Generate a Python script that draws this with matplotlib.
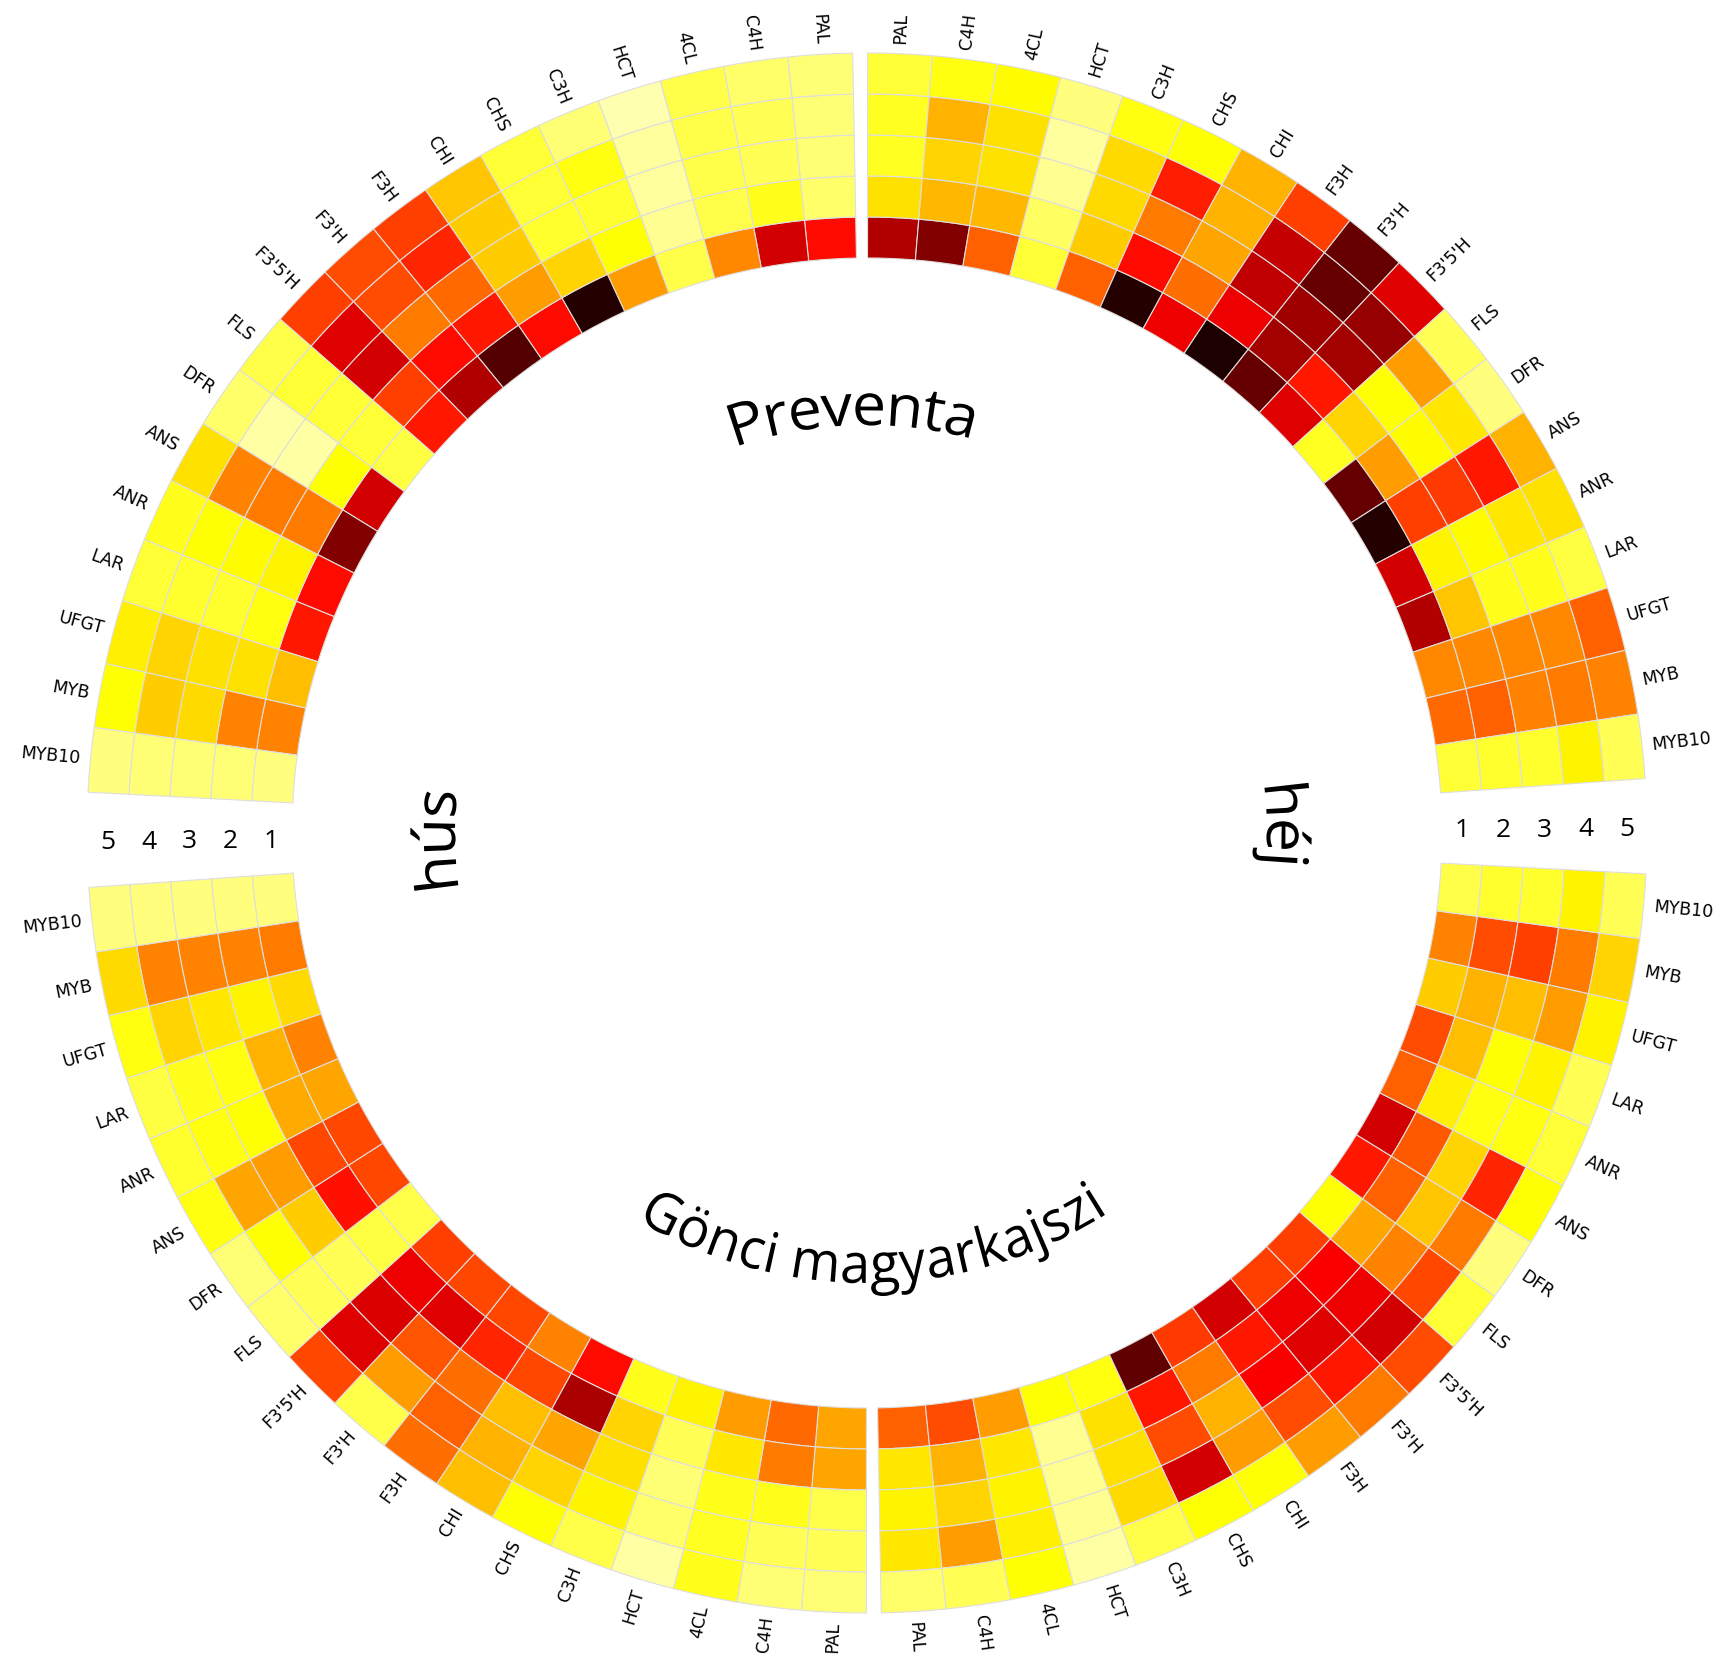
"""
Circular heatmap of relative gene expression in apricot fruit.

Four sectors: Preventa / Gönci magyarkajszi, each split into skin (héj)
and flesh (hús). Rings 1..5 run from the inside out.
"""

import numpy as np
import matplotlib
matplotlib.use("Agg")
import matplotlib.pyplot as plt
from matplotlib.colors import Normalize
from matplotlib.font_manager import FontProperties
from matplotlib.patches import PathPatch
from matplotlib.path import Path
from matplotlib.textpath import TextPath


# --------------------------------------------------------------------------- #
# Data: rows follow GENES, columns are rings 1..5 (inner -> outer)
# --------------------------------------------------------------------------- #
GENES = ["PAL", "C4H", "4CL", "HCT", "C3H", "CHS", "CHI", "F3H", "F3'H",
         "F3'5'H", "FLS", "DFR", "ANS", "ANR", "LAR", "UFGT", "MYB", "MYB10"]
RINGS = ["1", "2", "3", "4", "5"]

PREVENTA_HEJ = [
    [0.75, 0.30, 0.22, 0.22, 0.20],
    [0.82, 0.36, 0.32, 0.37, 0.24],
    [0.49, 0.36, 0.30, 0.30, 0.26],
    [0.20, 0.16, 0.11, 0.10, 0.13],
    [0.49, 0.33, 0.31, 0.31, 0.24],
    [0.96, 0.62, 0.45, 0.59, 0.25],
    [0.66, 0.47, 0.39, 0.37, 0.37],
    [0.97, 0.66, 0.73, 0.72, 0.54],
    [0.86, 0.77, 0.78, 0.86, 0.86],
    [0.68, 0.60, 0.77, 0.79, 0.68],
    [0.22, 0.32, 0.25, 0.40, 0.17],
    [0.86, 0.40, 0.26, 0.29, 0.13],
    [0.96, 0.54, 0.55, 0.60, 0.37],
    [0.70, 0.27, 0.26, 0.29, 0.30],
    [0.75, 0.34, 0.23, 0.23, 0.19],
    [0.43, 0.43, 0.43, 0.43, 0.49],
    [0.48, 0.49, 0.44, 0.45, 0.44],
    [0.20, 0.21, 0.21, 0.27, 0.17],
]

PREVENTA_HUS = [
    [0.62, 0.15, 0.14, 0.14, 0.14],
    [0.70, 0.23, 0.17, 0.17, 0.15],
    [0.43, 0.18, 0.18, 0.18, 0.18],
    [0.18, 0.11, 0.10, 0.10, 0.08],
    [0.40, 0.25, 0.21, 0.24, 0.14],
    [0.96, 0.32, 0.21, 0.20, 0.20],
    [0.62, 0.40, 0.33, 0.33, 0.34],
    [0.89, 0.60, 0.48, 0.58, 0.54],
    [0.75, 0.62, 0.45, 0.52, 0.52],
    [0.60, 0.54, 0.70, 0.68, 0.54],
    [0.19, 0.20, 0.20, 0.20, 0.18],
    [0.70, 0.25, 0.09, 0.09, 0.15],
    [0.82, 0.45, 0.45, 0.44, 0.30],
    [0.62, 0.27, 0.26, 0.25, 0.23],
    [0.60, 0.24, 0.21, 0.21, 0.20],
    [0.35, 0.30, 0.30, 0.32, 0.28],
    [0.44, 0.44, 0.31, 0.33, 0.25],
    [0.13, 0.14, 0.14, 0.14, 0.13],
]

GONCI_HUS = [
    [0.39, 0.39, 0.18, 0.17, 0.14],
    [0.48, 0.45, 0.23, 0.17, 0.14],
    [0.40, 0.29, 0.23, 0.22, 0.23],
    [0.27, 0.17, 0.14, 0.15, 0.09],
    [0.23, 0.32, 0.30, 0.27, 0.18],
    [0.62, 0.76, 0.39, 0.32, 0.25],
    [0.44, 0.53, 0.35, 0.37, 0.35],
    [0.53, 0.58, 0.47, 0.49, 0.47],
    [0.53, 0.68, 0.51, 0.40, 0.18],
    [0.54, 0.66, 0.69, 0.68, 0.53],
    [0.18, 0.19, 0.17, 0.17, 0.15],
    [0.53, 0.61, 0.33, 0.25, 0.14],
    [0.53, 0.53, 0.40, 0.39, 0.24],
    [0.39, 0.38, 0.25, 0.24, 0.21],
    [0.44, 0.37, 0.24, 0.23, 0.19],
    [0.31, 0.27, 0.29, 0.32, 0.24],
    [0.45, 0.44, 0.44, 0.44, 0.31],
    [0.13, 0.13, 0.13, 0.13, 0.13],
]

GONCI_HEJ = [
    [0.49, 0.29, 0.27, 0.29, 0.15],
    [0.52, 0.37, 0.32, 0.40, 0.17],
    [0.40, 0.29, 0.27, 0.28, 0.25],
    [0.25, 0.11, 0.11, 0.11, 0.09],
    [0.24, 0.30, 0.30, 0.31, 0.18],
    [0.87, 0.60, 0.52, 0.70, 0.25],
    [0.55, 0.45, 0.37, 0.40, 0.25],
    [0.70, 0.60, 0.64, 0.52, 0.40],
    [0.54, 0.66, 0.68, 0.60, 0.45],
    [0.54, 0.64, 0.66, 0.70, 0.52],
    [0.25, 0.39, 0.44, 0.53, 0.20],
    [0.60, 0.49, 0.34, 0.45, 0.13],
    [0.70, 0.50, 0.32, 0.58, 0.25],
    [0.49, 0.28, 0.24, 0.24, 0.20],
    [0.52, 0.35, 0.25, 0.27, 0.17],
    [0.33, 0.37, 0.35, 0.40, 0.27],
    [0.44, 0.52, 0.54, 0.45, 0.32],
    [0.18, 0.21, 0.21, 0.27, 0.17],
]


# --------------------------------------------------------------------------- #
# Layout (radial unit = 1 px at dpi 100)
# --------------------------------------------------------------------------- #
W_PX, H_PX = 1722, 1659
DPI = 100
CX, CY = 867, 833          # circle centre, px from top-left
R_LIM = 830
R_IN = 575                 # inner edge of ring 1
R_W = 41                   # ring thickness
R_LAB = 790                # gene labels start here
TILT = -0.5                # whole wheel turned slightly anticlockwise (deg)
GAP_V = 0.55               # half gap at top / bottom (deg)
GAP_H = 3.5                # half gap at left / right (deg)
STEP = (90 - GAP_V - GAP_H) / len(GENES)

CMAP = plt.get_cmap("hot_r")
NORM = Normalize(0.0, 1.0)
EDGE = "#dedede"

TITLE_FAMILY = "Open Sans"
NUM_FONT = "Open Sans"


def gene_angles(quadrant):
    """Compass angles (deg, clockwise from north) of gene centres."""
    k = np.arange(len(GENES)) + 0.5
    if quadrant == "TR":
        th = GAP_V + STEP * k
    elif quadrant == "BR":
        th = 180 - GAP_V - STEP * k
    elif quadrant == "BL":
        th = 180 + GAP_V + STEP * k
    else:  # TL
        th = 360 - GAP_V - STEP * k
    return th + TILT


def arc_text(ax, text, theta_c, r_base, size=42, outward=True):
    """Lay a string along a circle: outward -> tops away from centre."""
    prop = FontProperties(family=TITLE_FAMILY, size=size)
    tp = TextPath((0, 0), text, size=size * DPI / 72.0, prop=prop)
    v = tp.vertices
    ext = tp.get_extents()
    x = v[:, 0] - 0.5 * (ext.x0 + ext.x1)
    y = v[:, 1]
    if outward:
        th = np.radians(theta_c) + x / r_base
        r = r_base + y
    else:
        th = np.radians(theta_c) - x / r_base
        r = r_base - y
    path = Path(np.column_stack([th, r]), tp.codes)
    ax.add_patch(PathPatch(path, facecolor="black", edgecolor="none",
                           transform=ax.transData, clip_on=False))


def draw_sector(ax, values, quadrant):
    vals = np.asarray(values, dtype=float)
    th = gene_angles(quadrant)
    for i in range(len(RINGS)):
        ax.bar(np.radians(th), R_W, width=np.radians(STEP),
               bottom=R_IN + R_W * i, color=CMAP(NORM(vals[:, i])),
               edgecolor=EDGE, linewidth=0.8, align="center")
    for name, t in zip(GENES, th):
        t_mod = t % 360
        if t_mod < 180:
            rot, ha = 90 - t_mod, "left"
        else:
            rot, ha = 270 - t_mod, "right"
        ax.text(np.radians(t), R_LAB, name, rotation=rot,
                rotation_mode="anchor", ha=ha, va="center",
                fontsize=12.5, family="DejaVu Sans")


def main() -> None:
    fig = plt.figure(figsize=(W_PX / DPI, H_PX / DPI), dpi=DPI)
    ax = fig.add_axes([(CX - R_LIM) / W_PX, (H_PX - CY - R_LIM) / H_PX,
                       2 * R_LIM / W_PX, 2 * R_LIM / H_PX],
                      projection="polar")
    ax.set_theta_zero_location("N")
    ax.set_theta_direction(-1)
    ax.set_ylim(0, R_LIM)
    ax.set_axis_off()

    draw_sector(ax, PREVENTA_HEJ, "TR")
    draw_sector(ax, GONCI_HEJ, "BR")
    draw_sector(ax, GONCI_HUS, "BL")
    draw_sector(ax, PREVENTA_HUS, "TL")

    # ring numbers in the left / right gaps
    for i, lab in enumerate(RINGS):
        r = R_IN + R_W * (i + 0.5)
        for t in (90 + TILT, 270 + TILT):
            ax.text(np.radians(t), r, lab, ha="center", va="center_baseline",
                    fontsize=19, family=NUM_FONT)

    # curved titles inside the wheel
    arc_text(ax, "Preventa", -1.9, 408)
    arc_text(ax, "héj", 88.8, 400)
    arc_text(ax, "hús", 269.1, 412)
    arc_text(ax, "Gönci magyarkajszi", 179.2, 450, size=40, outward=False)

    fig.savefig("out.png", dpi=DPI, facecolor="white")


if __name__ == "__main__":
    main()
